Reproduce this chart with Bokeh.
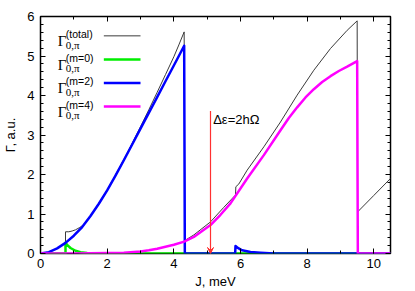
from bokeh.plotting import figure
from bokeh.models import (Range1d, LinearAxis, SingleIntervalTicker, Label, Arrow, VeeHead,
                          CustomJSTickFormatter)
from bokeh.embed import file_html
from bokeh.resources import INLINE

# ---------------- data ----------------
total_J = [0, 0.25, 0.5, 0.75, 0.75, 0.85, 0.95, 1.05, 1.18, 1.3, 1.5, 1.75, 2.0, 2.25,
           2.5, 2.75, 3.0, 3.25, 3.5, 3.75, 4.0, 4.15, 4.31, 4.33, 4.6, 5.1, 5.5, 5.85,
           5.86, 5.95, 6.2, 6.7, 7.2, 7.7, 8.2, 8.7, 9.2, 9.5, 9.51, 10.0, 10.5]
total_G = [0, 0.035, 0.13, 0.27, 0.55, 0.55, 0.57, 0.60, 0.66, 0.73, 0.95, 1.27, 1.61, 1.99,
           2.38, 2.79, 3.21, 3.64, 4.08, 4.53, 4.98, 5.28, 5.61, 0.33, 0.47, 0.80, 1.17, 1.48,
           1.69, 1.76, 2.11, 2.70, 3.33, 4.01, 4.64, 5.19, 5.65, 5.89, 1.05, 1.47, 1.90]

m0_J = [0, 0.75, 0.75, 0.8, 0.9, 1.05, 1.2, 1.4, 1.7, 10.5]
m0_G = [0, 0, 0.27, 0.22, 0.14, 0.07, 0.03, 0.01, 0, 0]

m2_J = [0, 0.25, 0.5, 0.75, 1.0, 1.25, 1.5, 1.75, 2.0, 2.25, 2.5, 2.75, 3.0, 3.25, 3.5,
        3.75, 4.0, 4.15, 4.31, 4.33, 5.84, 5.85, 5.92, 6.05, 6.3, 6.6, 7.0, 10.5]
m2_G = [0, 0.035, 0.13, 0.27, 0.45, 0.67, 0.95, 1.26, 1.60, 1.97, 2.36, 2.76, 3.16, 3.56, 3.96,
        4.36, 4.76, 5.0, 5.26, 0, 0, 0.19, 0.14, 0.08, 0.04, 0.02, 0, 0]

m4_J = [0, 1.0, 2.0, 2.5, 3.0, 3.25, 3.5, 3.75, 4.0, 4.31, 4.6, 5.1, 5.4, 5.7, 6.2, 6.7,
        7.2, 7.45, 7.7, 7.95, 8.2, 8.45, 8.7, 8.95, 9.2, 9.5, 9.52, 10.5]
m4_G = [0, 0, 0.01, 0.02, 0.05, 0.08, 0.12, 0.17, 0.22, 0.30, 0.42, 0.72, 0.98, 1.27, 1.90,
        2.49, 3.12, 3.43, 3.70, 3.95, 4.16, 4.34, 4.49, 4.62, 4.73, 4.87, 0, 0]

arrow_J = 5.1
arrow_G_top = 3.61
arrow_text = "Δε=2hΩ"

series_sup = ["(total)", "(m=0)", "(m=2)", "(m=4)"]
series_colors = ["#3a3a3a", "#00ee00", "#0000ff", "#ff00ff"]
series_widths = [1, 2.5, 2.5, 2.5]

x_label = "J, meV"
y_label = "Γ, a.u."

# ---------------- figure ----------------
SANS = "Liberation Sans"
SERIF = "Liberation Serif"

p = figure(width=415, height=291, output_backend="svg", toolbar_location=None,
           x_range=Range1d(0, 10.5), y_range=Range1d(0, 6),
           min_border_left=40, min_border_right=25, min_border_top=16, min_border_bottom=38)
p.background_fill_color = "white"
p.border_fill_color = "white"
p.grid.visible = False
p.outline_line_color = "black"
p.outline_line_width = 1.5
p.outline_line_alpha = 1.0

bottom_ax = p.below[0]
left_ax = p.left[0]
top_ax = LinearAxis(formatter=CustomJSTickFormatter(code="return ''"))
right_ax = LinearAxis(formatter=CustomJSTickFormatter(code="return ''"))
p.add_layout(top_ax, "above")
p.add_layout(right_ax, "right")

for ax in [bottom_ax, top_ax]:
    ax.ticker = SingleIntervalTicker(interval=2, num_minor_ticks=2)
for ax in [left_ax, right_ax]:
    ax.ticker = SingleIntervalTicker(interval=1, num_minor_ticks=5)

for ax in [bottom_ax, top_ax, left_ax, right_ax]:
    ax.axis_line_color = None
    ax.major_tick_in = 5
    ax.major_tick_out = 0
    ax.minor_tick_in = 3
    ax.minor_tick_out = 0
    ax.major_tick_line_color = "black"
    ax.minor_tick_line_color = "black"
    ax.major_label_text_font = SANS
    ax.major_label_text_font_size = "13px"
    ax.major_label_text_color = "black"
    ax.axis_label_text_font = SANS
    ax.axis_label_text_font_size = "13px"
    ax.axis_label_text_font_style = "normal"
    ax.axis_label_text_color = "black"

for ax in [top_ax, right_ax]:
    ax.major_label_standoff = 0

bottom_ax.axis_label = x_label
bottom_ax.major_label_standoff = 5
bottom_ax.axis_label_standoff = 3
left_ax.axis_label = y_label
left_ax.major_label_standoff = 6
left_ax.axis_label_standoff = 6

# ---------------- curves ----------------
curves = [(total_J, total_G), (m0_J, m0_G), (m2_J, m2_G), (m4_J, m4_G)]
for (xs, ys), c, w in zip(curves, series_colors, series_widths):
    p.line(xs, ys, line_color=c, line_width=w, line_join="round")

# ---------------- arrow ----------------
RED = "#ff3030"
p.add_layout(Arrow(x_start=arrow_J, y_start=arrow_G_top, x_end=arrow_J, y_end=0,
                   line_color=RED, line_width=1.2,
                   end=VeeHead(size=6, line_color=RED, fill_color=RED, line_width=1)))
p.add_layout(Label(x=arrow_J + 0.08, y=arrow_G_top - 0.22, text=arrow_text,
                   text_font=SANS, text_font_size="13px", text_color="black",
                   text_baseline="alphabetic"))

# ---------------- legend (gnuplot style: text then sample) ----------------
LEG_ROW0 = 5.51
LEG_DY = 0.597
for i, (sup, c, w) in enumerate(zip(series_sup, series_colors, series_widths)):
    yl = LEG_ROW0 - i * LEG_DY
    p.segment(x0=[1.9], y0=[yl], x1=[3.0], y1=[yl], line_color=c, line_width=w)
    p.add_layout(Label(x=0.52, y=yl - 0.13, text="Γ", text_font=SERIF,
                       text_font_size="15px", text_color="black", text_baseline="alphabetic"))
    p.add_layout(Label(x=0.76, y=yl + 0.04, text=sup, text_font=SANS,
                       text_font_size="10.5px", text_color="black", text_baseline="alphabetic"))
    p.add_layout(Label(x=0.76, y=yl - 0.22, text="0,π", text_font=SERIF,
                       text_font_size="11px", text_color="black", text_baseline="alphabetic"))

open("out.html", "w").write(file_html(p, INLINE))
